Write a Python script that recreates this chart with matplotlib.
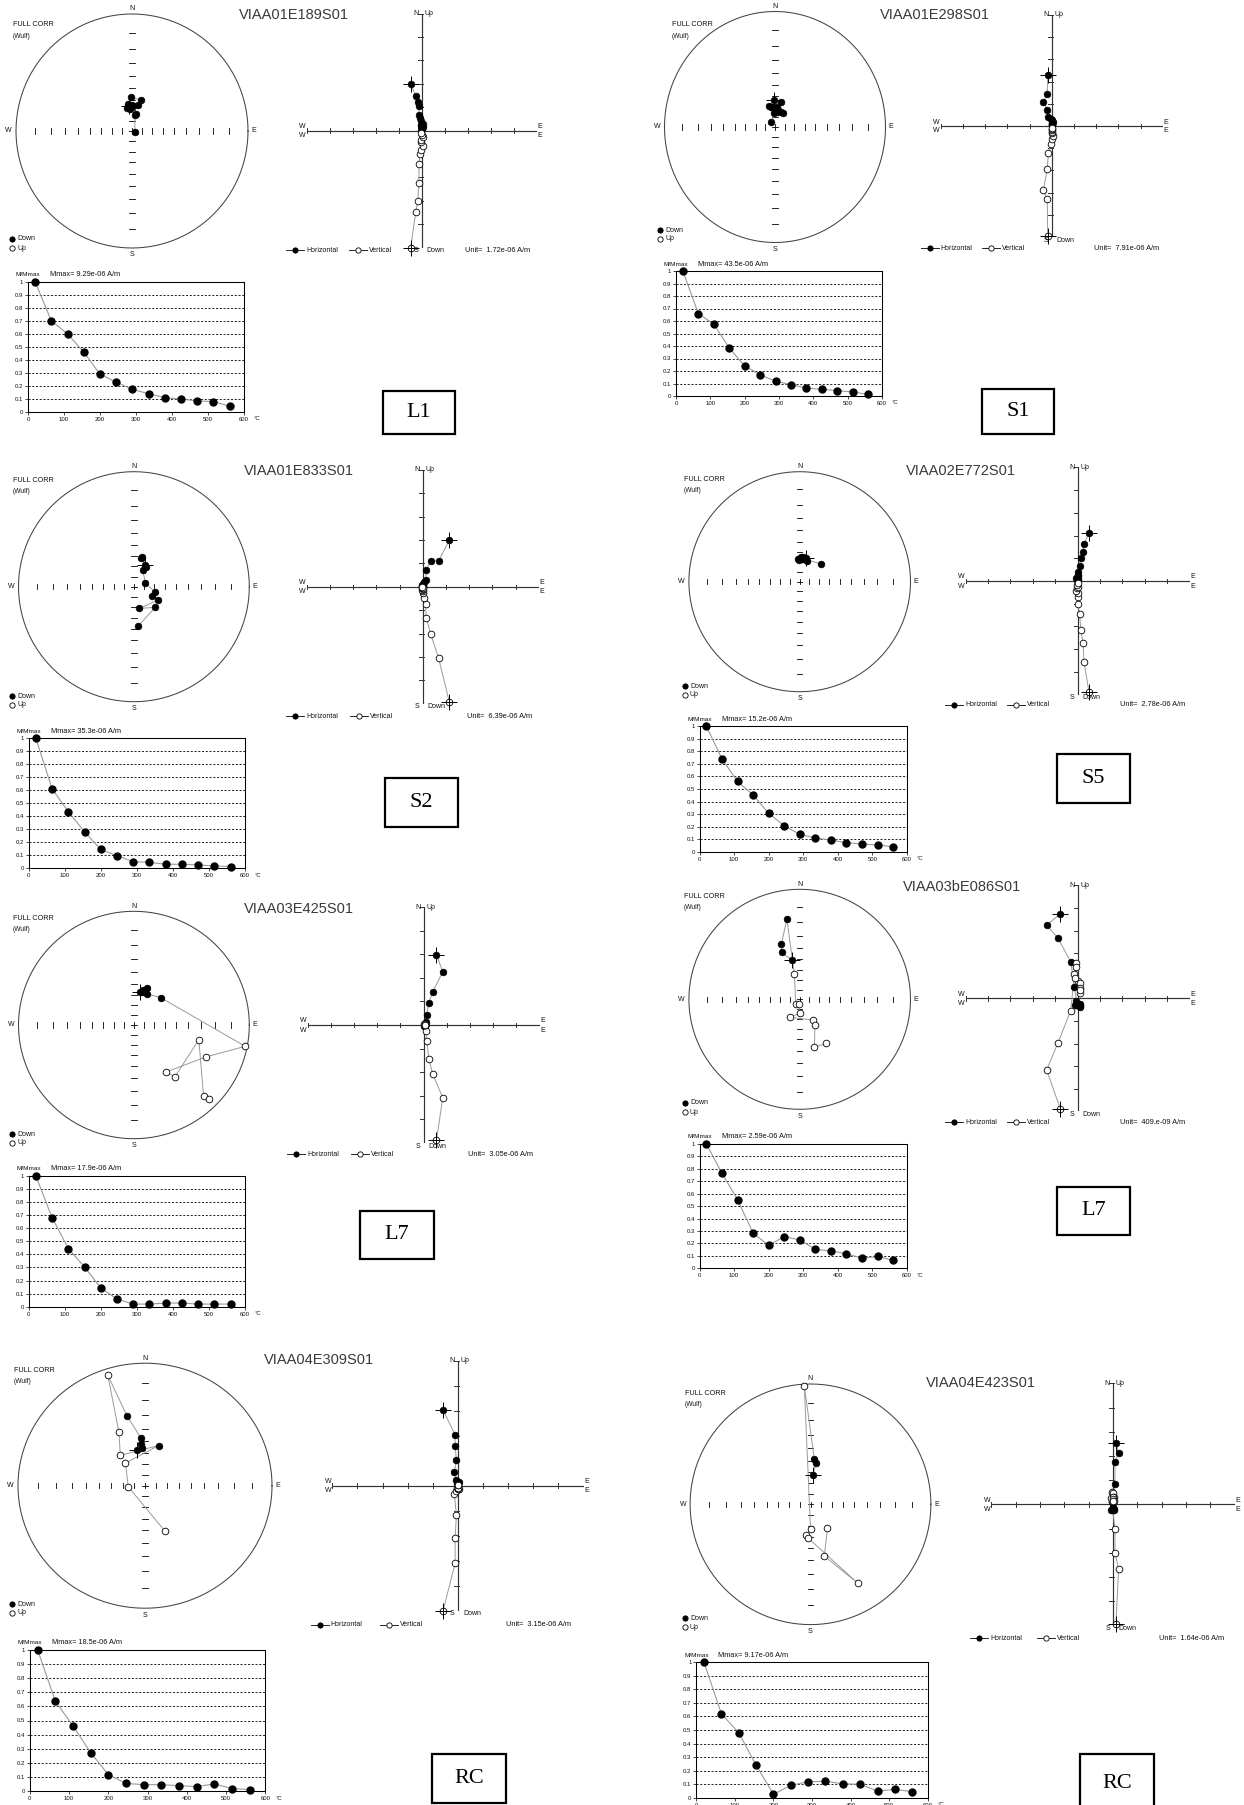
import numpy as np
import matplotlib.pyplot as plt
from matplotlib.lines import Line2D
from matplotlib.patches import Rectangle

plt.rcParams['font.family'] = ['Liberation Sans', 'DejaVu Sans']

W, H = 1244, 1805
GREY = '#9a9a9a'

# demagnetisation steps (deg C), same for every sample
temps = [20, 65, 110, 155, 200, 245, 290, 335, 380, 425, 470, 515, 560]

# ---- VIAA01E189S01 (L1)
dec_l1 = [353, 358, 17, 12, 351, 349, 354, 12, 0, 3, 352, 10, 110]
inc_l1 = [66, 58, 59, 64, 66, 67, 69, 73, 65, 66, 64, 74, 87]
ze_l1 = [-0.48, -0.26, -0.17, -0.12, -0.12, -0.07, -0.04, 0.06, -0.05, -0.03, 0.05, 0.0, -0.01]
zn_l1 = [2.01, 1.48, 1.22, 1.07, 0.68, 0.55, 0.40, 0.30, 0.25, 0.18, 0.15, 0.08, 0.04]
zu_l1 = [-5.01, -3.48, -3.01, -2.22, -1.42, -1.01, -0.81, -0.65, -0.48, -0.38, -0.26, -0.19, -0.10]
mm_l1 = [1.0, 0.70, 0.60, 0.46, 0.29, 0.23, 0.175, 0.14, 0.11, 0.10, 0.085, 0.08, 0.045]

# ---- VIAA01E298S01 (S1)
dec_s1 = [358, 14, 344, 353, 5, 356, 22, 29, 13, 0, 347, 11, 321]
inc_s1 = [64, 65, 69, 70, 70, 76, 74, 74, 75, 73, 70, 73, 83]
ze_s1 = [-0.18, -0.2, -0.38, -0.2, -0.15, -0.05, 0.0, 0.05, 0.02, 0.0, 0.03, 0.01, 0.0]
zn_s1 = [2.30, 1.43, 1.10, 0.72, 0.42, 0.32, 0.25, 0.18, 0.14, 0.10, 0.07, 0.05, 0.03]
zu_s1 = [-4.95, -3.30, -2.90, -1.95, -1.23, -0.81, -0.60, -0.44, -0.32, -0.25, -0.18, -0.12, -0.07]
mm_s1 = [1.0, 0.66, 0.575, 0.385, 0.24, 0.17, 0.118, 0.09, 0.064, 0.053, 0.043, 0.032, 0.013]

# ---- VIAA01E833S01 (S2)
dec_s2 = [28, 13, 16, 31, 27, 71, 104, 116, 119, 166, 134, 174]
inc_s2 = [66, 61, 60, 67, 71, 78, 69, 70, 63, 68, 61, 52]
ze_s2 = [1.14, 0.68, 0.34, 0.15, 0.12, 0.06, 0.03, 0.0, -0.02, 0.0, -0.03, 0.0, -0.02]
zn_s2 = [1.98, 1.10, 1.10, 0.71, 0.28, 0.18, 0.12, 0.08, 0.06, 0.05, 0.04, 0.03, 0.02]
zu_s2 = [-4.91, -3.05, -2.03, -1.32, -0.74, -0.50, -0.28, -0.20, -0.15, -0.10, -0.07, -0.05, -0.03]
mm_s2 = [1.0, 0.61, 0.435, 0.28, 0.145, 0.097, 0.051, 0.046, 0.031, 0.031, 0.026, 0.018, 0.013]

# ---- VIAA02E772S01 (S5)
dec_s5 = [14, 355, 2, 8, 11, 359, 5, 19, 3, 358, 10, 6, 49]
inc_s5 = [65, 67, 65, 64, 66, 67, 67, 67, 66, 68, 65, 66, 62]
ze_s5 = [0.51, 0.29, 0.24, 0.15, 0.085, 0.02, 0.03, 0.0, -0.05, -0.03, 0.0, -0.02, 0.0]
zn_s5 = [2.13, 1.63, 1.28, 1.03, 0.67, 0.38, 0.27, 0.20, 0.15, 0.10, 0.07, 0.05, 0.03]
zu_s5 = [-4.90, -3.56, -2.71, -2.17, -1.47, -1.01, -0.69, -0.54, -0.42, -0.32, -0.25, -0.18, -0.10]
mm_s5 = [1.0, 0.74, 0.56, 0.452, 0.306, 0.207, 0.138, 0.109, 0.093, 0.072, 0.061, 0.053, 0.04]

# ---- VIAA03E425S01 (L7)
dec_l7a = [10, 15, 20, 23, 13, 44, 101, 114, 146, 142, 103, 136, 135]
inc_l7a = [57, 55, 52, 57, 57, 53, -1, -21, -37, -30, -30, -8, -5]
ze_l7a = [0.56, 0.83, 0.40, 0.23, 0.14, 0.09, 0.05, 0.06, 0.05, 0.04, 0.06, 0.05, 0.06]
zn_l7a = [2.98, 2.25, 1.41, 0.95, 0.42, 0.14, -0.02, -0.04, -0.06, -0.05, -0.03, -0.05, -0.06]
zu_l7a = [-4.88, -3.08, -2.09, -1.43, -0.66, -0.24, 0.0, 0.02, 0.05, 0.03, 0.04, 0.01, 0.0]
mm_l7a = [1.0, 0.68, 0.445, 0.304, 0.143, 0.059, 0.02, 0.02, 0.028, 0.028, 0.02, 0.02, 0.02]

# ---- VIAA03bE086S01 (L7)
dec_l7b = [349, 339, 342, 351, 348, 223, 189, 180, 207, 148, 149, 163, 149]
inc_l7b = [50, 41, 34, 17, -64, -84, -85, -76, -69, -65, -60, -41, -40]
ze_l7b = [-0.77, -1.38, -0.88, -0.31, -0.14, -0.05, -0.05, 0.0, -0.12, 0.12, 0.12, 0.10, 0.12]
zn_l7b = [3.75, 3.23, 2.67, 1.62, 0.49, -0.12, -0.30, -0.25, -0.30, -0.25, -0.35, -0.37, -0.28]
zu_l7b = [-4.90, -3.17, -1.98, -0.55, 1.06, 1.58, 1.37, 0.78, 0.91, 0.66, 0.44, 0.25, 0.35]
mm_l7b = [1.0, 0.764, 0.552, 0.282, 0.185, 0.255, 0.228, 0.153, 0.139, 0.118, 0.08, 0.096, 0.064]

# ---- VIAA04E309S01 (RC)
dec_rca = [348, 355, 355, 355, 346, 342, 335, 322, 18, 320, 266, 157]
inc_rca = [57, 56, 52, 47, 29, -3, -38, -55, 52, -63, -75, -46]
ze_rca = [-0.59, -0.11, -0.11, -0.06, -0.14, -0.08, 0.05, 0.0, -0.02, 0.02, 0.0, 0.0, 0.01]
zn_rca = [3.03, 2.03, 1.59, 1.03, 0.56, 0.23, 0.16, 0.12, 0.10, 0.08, 0.10, 0.03, 0.02]
zu_rca = [-5.0, -3.10, -2.10, -1.17, -0.35, -0.20, -0.15, -0.12, -0.10, -0.08, -0.10, 0.03, 0.02]
mm_rca = [1.0, 0.638, 0.461, 0.272, 0.116, 0.054, 0.045, 0.045, 0.038, 0.031, 0.05, 0.017, 0.01]

# ---- VIAA04E423S01 (RC)
dec_rcb = [4, 8, 5, 357, 180, 188, 185, 149, 165, 144]
inc_rcb = [63, 52, 49, -1, -67, -61, -59, -15, -42, -63]
ze_rcb = [0.12, 0.23, 0.08, 0.08, -0.05, -0.03, 0.0, 0.05, -0.08, 0.02, 0.0, 0.05, -0.02]
zn_rcb = [2.53, 2.14, 1.73, 0.83, 0.10, -0.23, -0.20, -0.25, -0.25, -0.20, -0.15, -0.18, -0.10]
zu_rcb = [-4.96, -2.69, -2.0, -1.04, 0.12, 0.52, 0.45, 0.30, 0.25, 0.30, 0.20, 0.15, 0.12]
mm_rcb = [1.0, 0.62, 0.48, 0.24, 0.025, 0.091, 0.118, 0.121, 0.103, 0.099, 0.049, 0.062, 0.044]

titles = ['VIAA01E189S01', 'VIAA01E298S01', 'VIAA01E833S01', 'VIAA02E772S01',
          'VIAA03E425S01', 'VIAA03bE086S01', 'VIAA04E309S01', 'VIAA04E423S01']
tags = ['L1', 'S1', 'S2', 'S5', 'L7', 'L7', 'RC', 'RC']
units = ['1.72e-06 A/m', '7.91e-06 A/m', '6.39e-06 A/m', '2.78e-06 A/m',
         '3.05e-06 A/m', '409.e-09 A/m', '3.15e-06 A/m', '1.64e-06 A/m']
mmax = ['9.29e-06 A/m', '43.5e-06 A/m', '35.3e-06 A/m', '15.2e-06 A/m',
        '17.9e-06 A/m', '2.59e-06 A/m', '18.5e-06 A/m', '9.17e-06 A/m']

data = [
    (dec_l1, inc_l1, ze_l1, zn_l1, zu_l1, mm_l1),
    (dec_s1, inc_s1, ze_s1, zn_s1, zu_s1, mm_s1),
    (dec_s2, inc_s2, ze_s2, zn_s2, zu_s2, mm_s2),
    (dec_s5, inc_s5, ze_s5, zn_s5, zu_s5, mm_s5),
    (dec_l7a, inc_l7a, ze_l7a, zn_l7a, zu_l7a, mm_l7a),
    (dec_l7b, inc_l7b, ze_l7b, zn_l7b, zu_l7b, mm_l7b),
    (dec_rca, inc_rca, ze_rca, zn_rca, zu_rca, mm_rca),
    (dec_rcb, inc_rcb, ze_rcb, zn_rcb, zu_rcb, mm_rcb),
]

# page layout in pixels: stereonet (cx, cy, rx, ry), zijderveld (cx, cy, hx, hy),
# legend row y, demag box (x0, x1, ytop, ybot), tag box, title pos, FULL CORR pos, Down/Up pos
layout = [
    dict(sc=(132, 131, 116, 117), zc=(421.7, 130.7, 115, 117), leg=250, dm=(28, 244, 282, 412),
         box=(383, 391, 455, 434), tt=(239, 15), fc=(13, 25), du=(10, 239)),
    dict(sc=(775, 127, 110.5, 115.5), zc=(1051.7, 126, 111, 111), leg=248, dm=(676, 882, 271, 396),
         box=(982, 389, 1054, 434), tt=(880, 15), fc=(672, 25), du=(658, 230)),
    dict(sc=(133.9, 586.7, 115.4, 115), zc=(422.8, 586.7, 116, 117), leg=716, dm=(28.7, 245, 738.3, 868.3),
         box=(384.8, 778.3, 457.6, 826.7), tt=(244, 470.7), fc=(12.6, 480.7), du=(10, 696)),
    dict(sc=(799.7, 581.7, 110.8, 110), zc=(1077.6, 581, 112, 113.7), leg=705, dm=(699.5, 907, 726.3, 851.7),
         box=(1056.7, 754, 1129.8, 802.7), tt=(906, 470.7), fc=(683.5, 479.3), du=(683, 686)),
    dict(sc=(133.9, 1025, 115.4, 113.7), zc=(423.5, 1025, 116, 118), leg=1154, dm=(28.7, 245, 1176, 1306.7),
         box=(360, 1210.7, 433.6, 1259), tt=(244, 909), fc=(12.6, 918.3), du=(10, 1134)),
    dict(sc=(799.7, 999.3, 110.8, 110), zc=(1077.6, 998.3, 112, 113), leg=1122, dm=(699.5, 907, 1144, 1268.3),
         box=(1056.7, 1186.7, 1129.8, 1235), tt=(903, 887.3), fc=(683.5, 896.7), du=(683, 1103)),
    dict(sc=(145, 1485.7, 127, 122.5), zc=(457.9, 1485.7, 125.6, 125), leg=1625, dm=(29.8, 265.5, 1650, 1791),
         box=(432.4, 1754, 506, 1803.3), tt=(264, 1360), fc=(13.9, 1370.7), du=(10, 1604)),
    dict(sc=(810.5, 1504.3, 120.4, 120.3), zc=(1113, 1504.3, 121.7, 121), leg=1638, dm=(696.3, 927.7, 1662.3, 1797.7),
         box=(1080.4, 1754, 1154.2, 1812), tt=(925.8, 1383.3), fc=(685, 1393.3), du=(683, 1618.3)),
]

fig = plt.figure(figsize=(W / 100, H / 100), dpi=100)


def fx(x):
    return x / W


def fy(y):
    return 1 - y / H


def add_ax(x0, y0, x1, y1):
    return fig.add_axes([fx(x0), fy(y1), (x1 - x0) / W, (y1 - y0) / H])


def ftext(x, y, s, **kw):
    kw.setdefault('fontsize', 5)
    kw.setdefault('va', 'center')
    kw.setdefault('ha', 'left')
    kw.setdefault('color', '#111')
    fig.text(fx(x), fy(y), s, **kw)


def fmark(x, y, filled, line=False):
    if line:
        fig.add_artist(Line2D([fx(x - 9), fx(x + 9)], [fy(y), fy(y)], color='k', lw=0.6))
    fig.add_artist(Line2D([fx(x)], [fy(y)], marker='o', ms=3.8, ls='',
                          mfc='k' if filled else 'w', mec='k', mew=0.6))


def stereonet(cx, cy, rx, ry, dec, inc):
    ax = add_ax(cx - rx, cy - ry, cx + rx, cy + ry)
    ax.set_xlim(-1, 1)
    ax.set_ylim(-1, 1)
    ax.axis('off')
    t = np.linspace(0, 2 * np.pi, 361)
    ax.plot(np.cos(t), np.sin(t), color='#444', lw=0.75, clip_on=False)
    rr = np.tan(np.radians(90 - np.arange(10, 90, 10)) / 2)
    tx, ty = 2.6 / rx, 2.6 / ry
    for s in (-1, 1):
        for r in rr:
            ax.plot([s * r, s * r], [-ty, ty], color='k', lw=0.6)
            ax.plot([-tx, tx], [s * r, s * r], color='k', lw=0.6)
    ax.plot([-tx, tx], [0, 0], color='k', lw=0.6)
    ax.plot([0, 0], [-ty, ty], color='k', lw=0.6)
    d = np.radians(np.array(dec, float))
    inc = np.array(inc, float)
    r = np.tan((np.pi / 2 - np.radians(np.abs(inc))) / 2)
    x, y = r * np.sin(d), r * np.cos(d)
    down = inc >= 0
    ax.plot(x, y, color=GREY, lw=0.7)
    ax.plot(x[down], y[down], 'o', ls='', ms=4.8, mfc='k', mec='k', mew=0.5, clip_on=False)
    ax.plot(x[~down], y[~down], 'o', ls='', ms=4.8, mfc='w', mec='k', mew=0.6, clip_on=False)
    ax.plot(x[0], y[0], '+', ms=11, mew=0.7, color='k')
    ftext(cx, cy - ry - 5, 'N', ha='center')
    ftext(cx, cy + ry + 7, 'S', ha='center')
    ftext(cx - rx - 4, cy, 'W', ha='right')
    ftext(cx + rx + 3, cy, 'E')


def zijderveld(cx, cy, hx, hy, e, n, up, leg_y, unit):
    ax = add_ax(cx - hx, cy - hy, cx + hx, cy + hy)
    ax.set_xlim(-5, 5)
    ax.set_ylim(-5, 5)
    ax.axis('off')
    ax.plot([-5, 5], [0, 0], color='#333', lw=0.85)
    ax.plot([0, 0], [-5, 5], color='#333', lw=0.85)
    tx, ty = 2.2 * 5 / hx, 2.2 * 5 / hy
    for k in range(-5, 6):
        if k == 0:
            continue
        ax.plot([k, k], [-ty, ty], color='#333', lw=0.7)
        ax.plot([-1.6 * tx, 0.4 * tx], [k, k], color='#333', lw=0.7)
    ax.plot(e, n, color=GREY, lw=0.7)
    ax.plot(e, up, color=GREY, lw=0.7)
    ax.plot(e, n, 'o', ls='', ms=4.8, mfc='k', mec='k', mew=0.5, clip_on=False)
    ax.plot(e, up, 'o', ls='', ms=4.8, mfc='w', mec='k', mew=0.6, clip_on=False)
    ax.plot([e[0], e[0]], [n[0], up[0]], '+', ls='', ms=11, mew=0.7, color='k', clip_on=False)
    ftext(cx - 3, cy - hy, 'N', ha='right')
    ftext(cx + 3, cy - hy, 'Up')
    ftext(cx - 3, cy + hy + 3, 'S', ha='right')
    ftext(cx + 5, cy + hy + 3, 'Down')
    for dy in (-4, 5):
        ftext(cx - hx - 1, cy + dy, 'W', ha='right')
        ftext(cx + hx + 1, cy + dy, 'E')
    xh, xv = cx - 1.1 * hx, cx - 0.55 * hx
    fmark(xh, leg_y, True, line=True)
    ftext(xh + 11, leg_y, 'Horizontal')
    fmark(xv, leg_y, False, line=True)
    ftext(xv + 11, leg_y, 'Vertical')
    ftext(cx + 0.38 * hx, leg_y, 'Unit=  ' + unit, fontsize=5.3)


def demag(x0, x1, y0, y1, mm, mmax_txt):
    ax = add_ax(x0, y0, x1, y1)
    for g in np.arange(1, 10) / 10:
        ax.axhline(g, color='k', lw=0.6, ls=(0, (2.5, 2)))
    ax.plot(temps, mm, color=GREY, lw=0.8, zorder=3)
    ax.plot(temps, mm, 'o', ls='', ms=5, mfc='k', mec='k', zorder=4, clip_on=False)
    ax.set_xlim(0, 600)
    ax.set_ylim(0, 1)
    ax.set_xticks(range(0, 601, 100))
    ax.set_yticks(np.arange(11) / 10)
    ax.set_yticklabels([f'{v / 10:g}' for v in range(11)])
    ax.tick_params(labelsize=4.3, length=2, width=0.5, pad=1.5, labelcolor='#111')
    for sp in ax.spines.values():
        sp.set_linewidth(0.75)
    ftext(x1 + 10, y1 + 7, '°C', fontsize=4.3)
    ftext(x0 - 12, y0 - 7, 'M/Mmax', fontsize=4.6)
    ftext(x0 + 22, y0 - 7, 'Mmax= ' + mmax_txt, fontsize=5.3)


for k, lay in enumerate(layout):
    dec, inc, ze, zn, zu, mm = data[k]
    stereonet(*lay['sc'], dec, inc)
    zijderveld(*lay['zc'], ze, zn, zu, lay['leg'], units[k])
    demag(*lay['dm'], mm, mmax[k])

    tx, ty = lay['tt']
    ftext(tx, ty, titles[k], fontsize=10.5, color='#3a3a3a')
    fx0, fy0 = lay['fc']
    ftext(fx0, fy0, 'FULL CORR', fontsize=5.2)
    ftext(fx0, fy0 + 11, '(Wulf)', fontsize=4.8)
    dx, dy = lay['du']
    fmark(dx + 2, dy, True)
    ftext(dx + 7, dy, 'Down')
    fmark(dx + 2, dy + 9, False)
    ftext(dx + 7, dy + 9, 'Up')

    bx0, by0, bx1, by1 = lay['box']
    fig.add_artist(Rectangle((fx(bx0), fy(by1)), (bx1 - bx0) / W, (by1 - by0) / H,
                             fill=False, lw=1.6, ec='k'))
    ftext((bx0 + bx1) / 2, (by0 + by1) / 2, tags[k], ha='center', fontsize=16,
          family='Liberation Serif', color='k')

fig.savefig('out.png', dpi=100, facecolor='white')
